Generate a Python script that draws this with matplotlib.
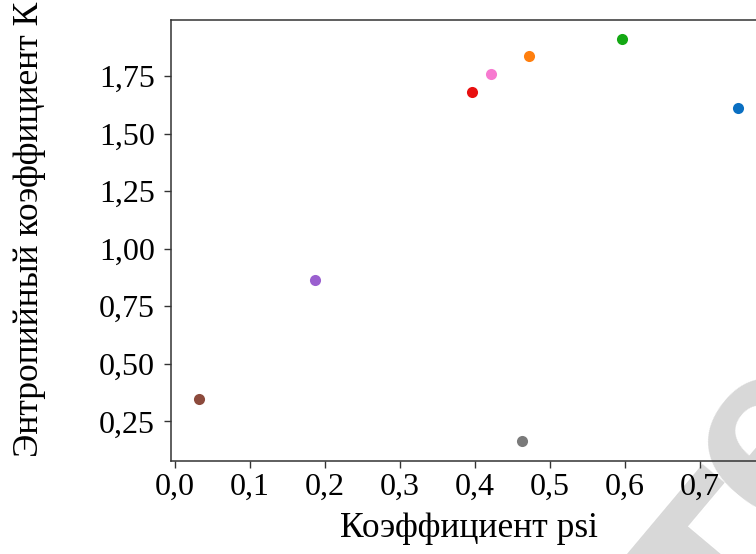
import matplotlib
import matplotlib.pyplot as plt

matplotlib.use("Agg")

psi = [0.751, 0.473, 0.596, 0.396, 0.1865, 0.0317, 0.4217, 0.4636]
entropy_k = [1.610, 1.837, 1.910, 1.682, 0.864, 0.347, 1.759, 0.165]
colors = ["#0a6fc2", "#ff7f0e", "#14a814", "#e81010", "#9a5fcf", "#8c4a3c", "#f77ad0", "#7a7a7a"]

x_ticks = [0.0, 0.1, 0.2, 0.3, 0.4, 0.5, 0.6, 0.7]
y_ticks = [0.25, 0.50, 0.75, 1.00, 1.25, 1.50, 1.75]

plt.rcParams["font.family"] = ["Liberation Serif", "DejaVu Serif"]

fig = plt.figure(figsize=(7.56, 5.54), dpi=100)
ax = fig.add_axes([0.2262, 0.1679, 0.7884, 0.7960])

for x, y, c in zip(psi, entropy_k, colors):
    ax.scatter(x, y, s=64, color=c, linewidths=0, zorder=3)

ax.set_xlim(-0.0054, 0.79)
ax.set_ylim(0.078, 1.993)
ax.set_xticks(x_ticks)
ax.set_xticklabels([f"{t:.1f}".replace(".", ",") for t in x_ticks])
ax.set_yticks(y_ticks)
ax.set_yticklabels([f"{t:.2f}".replace(".", ",") for t in y_ticks])
ax.tick_params(labelsize=23, length=5, width=1, color="#333333")
ax.tick_params(axis="y", pad=6.5)
for s in ax.spines.values():
    s.set_color("#333333")
    s.set_linewidth(1.1)

ax.set_xlabel("Коэффициент psi", fontsize=25.5, labelpad=7)
ax.set_ylabel("Энтропийный коэффициент К", fontsize=25.5)
ax.yaxis.set_label_coords(-0.210, 0.526)

# faint watermark letters in the lower right corner
wm = dict(transform=fig.transFigure, fontsize=185, color="#d8d8d8", family="Liberation Sans",
          fontweight="bold", rotation=50, rotation_mode="anchor", ha="center",
          va="baseline", zorder=0.5, clip_on=False)
ax.text(1.0437, -0.1444, "Т", **wm)
ax.text(1.0930, 0.1280, "е", **wm)

plt.savefig("out.png", dpi=100)
